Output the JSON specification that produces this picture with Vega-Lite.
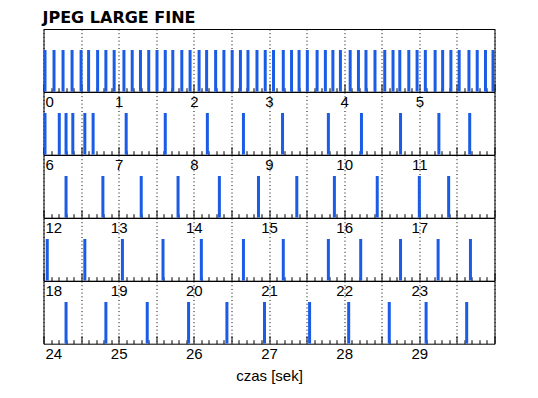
{
  "$schema": "https://vega.github.io/schema/vega-lite/v6.json",
  "background": "white",
  "padding": {"left": 42.5, "top": 9, "right": 5, "bottom": 5},
  "title": {"text": "JPEG LARGE FINE", "anchor": "start", "font": "DejaVu Sans", "fontSize": 16, "fontWeight": "bold", "color": "#000", "baseline": "alphabetic", "offset": -10},
  "data": {"values": [
    {"t": 0.02}, {"t": 0.14}, {"t": 0.26}, {"t": 0.38}, {"t": 0.50}, {"t": 0.60}, {"t": 0.72}, {"t": 0.83}, {"t": 0.94},
    {"t": 1.07}, {"t": 1.18}, {"t": 1.29}, {"t": 1.40}, {"t": 1.51}, {"t": 1.62}, {"t": 1.72}, {"t": 1.84}, {"t": 1.95},
    {"t": 2.07}, {"t": 2.17}, {"t": 2.29}, {"t": 2.40}, {"t": 2.51}, {"t": 2.62}, {"t": 2.72}, {"t": 2.84}, {"t": 2.95},
    {"t": 3.06}, {"t": 3.19}, {"t": 3.30}, {"t": 3.40}, {"t": 3.51}, {"t": 3.64}, {"t": 3.75}, {"t": 3.85}, {"t": 3.95},
    {"t": 4.08}, {"t": 4.19}, {"t": 4.29}, {"t": 4.41}, {"t": 4.54}, {"t": 4.65}, {"t": 4.74}, {"t": 4.86}, {"t": 4.97},
    {"t": 5.08}, {"t": 5.21}, {"t": 5.31}, {"t": 5.42}, {"t": 5.53}, {"t": 5.66}, {"t": 5.77}, {"t": 5.88}, {"t": 5.98},
    {"t": 6.02}, {"t": 6.21}, {"t": 6.30}, {"t": 6.39}, {"t": 6.55}, {"t": 6.66}, {"t": 7.10}, {"t": 7.62}, {"t": 8.18},
    {"t": 8.66}, {"t": 9.18}, {"t": 9.79}, {"t": 10.23}, {"t": 10.75}, {"t": 11.26}, {"t": 11.67},
    {"t": 12.30}, {"t": 12.79}, {"t": 13.30}, {"t": 13.79}, {"t": 14.34}, {"t": 14.86}, {"t": 15.37}, {"t": 15.87},
    {"t": 16.44}, {"t": 17.00}, {"t": 17.39},
    {"t": 18.05}, {"t": 18.55}, {"t": 19.05}, {"t": 19.59}, {"t": 20.10}, {"t": 20.66}, {"t": 21.19}, {"t": 21.79},
    {"t": 22.22}, {"t": 22.75}, {"t": 23.25}, {"t": 23.68},
    {"t": 24.30}, {"t": 24.83}, {"t": 25.38}, {"t": 25.93}, {"t": 26.44}, {"t": 26.94}, {"t": 27.54}, {"t": 28.06},
    {"t": 28.60}, {"t": 29.09}, {"t": 29.63}
  ]},
  "spacing": 0,
  "bounds": "flush",
  "vconcat": [
    {
      "width": 451, "height": 62.7,
      "transform": [{"filter": "datum.t >= 0 && datum.t < 6"}],
      "mark": {"type": "rule", "strokeWidth": 3, "color": "#1a5ce6", "clip": true},
      "encoding": {
        "x": {"field": "t", "type": "quantitative", "scale": {"domain": [0, 6], "nice": false, "zero": false},
              "axis": {"tickCount": 60, "labelExpr": "datum.value % 1 === 0 && datum.value < 6 ? datum.label : ''",
                       "tickSize": {"condition": {"test": "abs(datum.value * 2 - round(datum.value * 2)) < 0.001", "value": -8}, "value": -4},
                       "gridOpacity": {"condition": {"test": "abs(datum.value * 2 - round(datum.value * 2)) < 0.001", "value": 1}, "value": 0},
                       "title": null}},
        "y": {"datum": 1, "type": "quantitative", "scale": {"domain": [0, 1.5], "nice": false}, "axis": null},
        "y2": {"datum": 0}}
    },
    {
      "width": 451, "height": 62.7,
      "transform": [{"filter": "datum.t >= 6 && datum.t < 12"}],
      "mark": {"type": "rule", "strokeWidth": 3, "color": "#1a5ce6", "clip": true},
      "encoding": {
        "x": {"field": "t", "type": "quantitative", "scale": {"domain": [6, 12], "nice": false, "zero": false},
              "axis": {"tickCount": 60, "labelExpr": "datum.value % 1 === 0 && datum.value < 12 ? datum.label : ''",
                       "tickSize": {"condition": {"test": "abs(datum.value * 2 - round(datum.value * 2)) < 0.001", "value": -8}, "value": -4},
                       "gridOpacity": {"condition": {"test": "abs(datum.value * 2 - round(datum.value * 2)) < 0.001", "value": 1}, "value": 0},
                       "title": null}},
        "y": {"datum": 1, "type": "quantitative", "scale": {"domain": [0, 1.5], "nice": false}, "axis": null},
        "y2": {"datum": 0}}
    },
    {
      "width": 451, "height": 62.7,
      "transform": [{"filter": "datum.t >= 12 && datum.t < 18"}],
      "mark": {"type": "rule", "strokeWidth": 3, "color": "#1a5ce6", "clip": true},
      "encoding": {
        "x": {"field": "t", "type": "quantitative", "scale": {"domain": [12, 18], "nice": false, "zero": false},
              "axis": {"tickCount": 60, "labelExpr": "datum.value % 1 === 0 && datum.value < 18 ? datum.label : ''",
                       "tickSize": {"condition": {"test": "abs(datum.value * 2 - round(datum.value * 2)) < 0.001", "value": -8}, "value": -4},
                       "gridOpacity": {"condition": {"test": "abs(datum.value * 2 - round(datum.value * 2)) < 0.001", "value": 1}, "value": 0},
                       "title": null}},
        "y": {"datum": 1, "type": "quantitative", "scale": {"domain": [0, 1.5], "nice": false}, "axis": null},
        "y2": {"datum": 0}}
    },
    {
      "width": 451, "height": 62.7,
      "transform": [{"filter": "datum.t >= 18 && datum.t < 24"}],
      "mark": {"type": "rule", "strokeWidth": 3, "color": "#1a5ce6", "clip": true},
      "encoding": {
        "x": {"field": "t", "type": "quantitative", "scale": {"domain": [18, 24], "nice": false, "zero": false},
              "axis": {"tickCount": 60, "labelExpr": "datum.value % 1 === 0 && datum.value < 24 ? datum.label : ''",
                       "tickSize": {"condition": {"test": "abs(datum.value * 2 - round(datum.value * 2)) < 0.001", "value": -8}, "value": -4},
                       "gridOpacity": {"condition": {"test": "abs(datum.value * 2 - round(datum.value * 2)) < 0.001", "value": 1}, "value": 0},
                       "title": null}},
        "y": {"datum": 1, "type": "quantitative", "scale": {"domain": [0, 1.5], "nice": false}, "axis": null},
        "y2": {"datum": 0}}
    },
    {
      "width": 451, "height": 62.7,
      "transform": [{"filter": "datum.t >= 24 && datum.t < 30"}],
      "mark": {"type": "rule", "strokeWidth": 3, "color": "#1a5ce6", "clip": true},
      "encoding": {
        "x": {"field": "t", "type": "quantitative", "scale": {"domain": [24, 30], "nice": false, "zero": false},
              "axis": {"tickCount": 60, "labelExpr": "datum.value % 1 === 0 && datum.value < 30 ? datum.label : ''",
                       "tickSize": {"condition": {"test": "abs(datum.value * 2 - round(datum.value * 2)) < 0.001", "value": -8}, "value": -4},
                       "gridOpacity": {"condition": {"test": "abs(datum.value * 2 - round(datum.value * 2)) < 0.001", "value": 1}, "value": 0},
                       "title": "czas [sek]", "titlePadding": 3}},
        "y": {"datum": 1, "type": "quantitative", "scale": {"domain": [0, 1.5], "nice": false}, "axis": null},
        "y2": {"datum": 0}}
    }
  ],
  "config": {
    "view": {"stroke": "#000", "strokeWidth": 1},
    "axisX": {"orient": "bottom", "format": "d", "domain": false, "grid": true, "gridColor": "#000", "gridDash": [1, 2.7], "gridWidth": 1,
              "labelFlush": true, "labelFlushOffset": -1.5, "labelPadding": 11, "labelOverlap": false, "labelBound": false,
              "labelFont": "Liberation Sans", "labelFontSize": 15, "labelColor": "#000",
              "titleFont": "Liberation Sans", "titleFontSize": 15, "titleFontWeight": "normal", "titleColor": "#000",
              "tickColor": "#000", "tickWidth": 1, "tickOpacity": 1}
  }
}
